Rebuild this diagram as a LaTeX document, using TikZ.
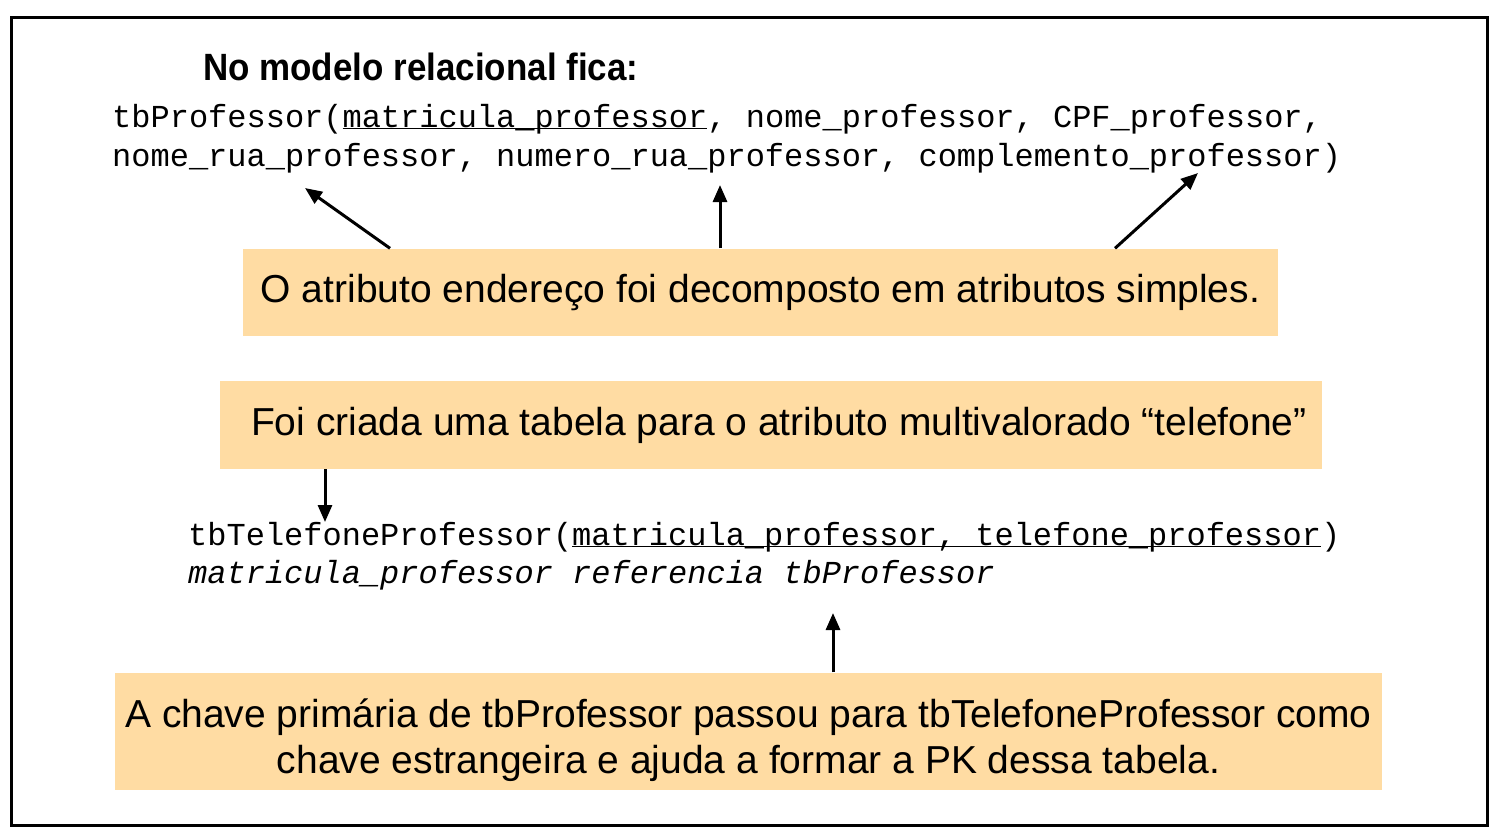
\documentclass[tikz,border=0pt]{standalone}
\usepackage{fontspec}
\setmainfont{Liberation Sans}
\setmonofont{Liberation Mono}
\newfontfamily\titlefont[FakeStretch=0.92]{Liberation Sans}
\usepackage{tikz}
\usetikzlibrary{arrows.meta,calc}
\definecolor{notefill}{RGB}{255,220,163}
\newcommand{\pk}[1]{\underline{\smash{#1}}}
\tikzset{
  note/.style={fill=notefill,inner sep=0pt,align=center,font=\fontsize{39}{46}\selectfont},
  rel/.style={anchor=base west,inner sep=0pt,font=\fontsize{32}{38}\selectfont\ttfamily},
  arr/.style={-{Triangle[length=17pt,width=14pt]},line width=3pt},
}

\begin{document}
\begin{tikzpicture}[x=1pt,y=-1pt]
\useasboundingbox (0,0) rectangle (1508,839);
\draw[line width=3pt] (11,17) rectangle (1487,825);
\node[anchor=base west,inner sep=0pt,font=\fontsize{38}{45}\selectfont\titlefont\bfseries] (title) at (203,80) {No modelo relacional fica:};
\node[rel] (prof1) at (112,127) {tbProfessor(\pk{matricula\_professor}, nome\_professor, CPF\_professor,};
\node[rel] (prof2) at (112,166) {nome\_rua\_professor, numero\_rua\_professor, complemento\_professor)};
\node[rel] (tel1) at (188,545) {tbTelefoneProfessor(\pk{matricula\_professor, telefone\_professor})};
\node[rel,font=\fontsize{32}{38}\selectfont\ttfamily\itshape] (tel2) at (188,583) {matricula\_professor referencia tbProfessor};

\node[note,minimum width=1035pt,minimum height=87pt] (endereco) at (760.5,292) {O atributo endereço foi decomposto em atributos simples.};
\node[note,minimum width=1102pt,minimum height=88pt] (telefone) at (771,425) {\hspace*{16pt}Foi criada uma tabela para o atributo multivalorado “telefone”};
\node[note,minimum width=1267pt,minimum height=117pt] (chave) at (748.5,731) {\rule{0pt}{47pt}A chave primária de tbProfessor passou para tbTelefoneProfessor como\\chave estrangeira e ajuda a formar a PK dessa tabela.};

\coordinate (rua) at (305,188);
\coordinate (numero) at (720,185);
\coordinate (compl) at (1198,173);
\coordinate (teltab) at (325,522);
\coordinate (fk) at (833,613);
\draw[arr] ([xshift=-370.5pt]endereco.north) -- (rua);
\draw[arr] ([xshift=-40.5pt]endereco.north) -- (numero);
\draw[arr] ([xshift=354.5pt]endereco.north) -- (compl);
\draw[arr] ([xshift=-446pt]telefone.south) -- (teltab);
\draw[arr] ([xshift=84.5pt]chave.north) -- (fk);
\end{tikzpicture}
\end{document}
